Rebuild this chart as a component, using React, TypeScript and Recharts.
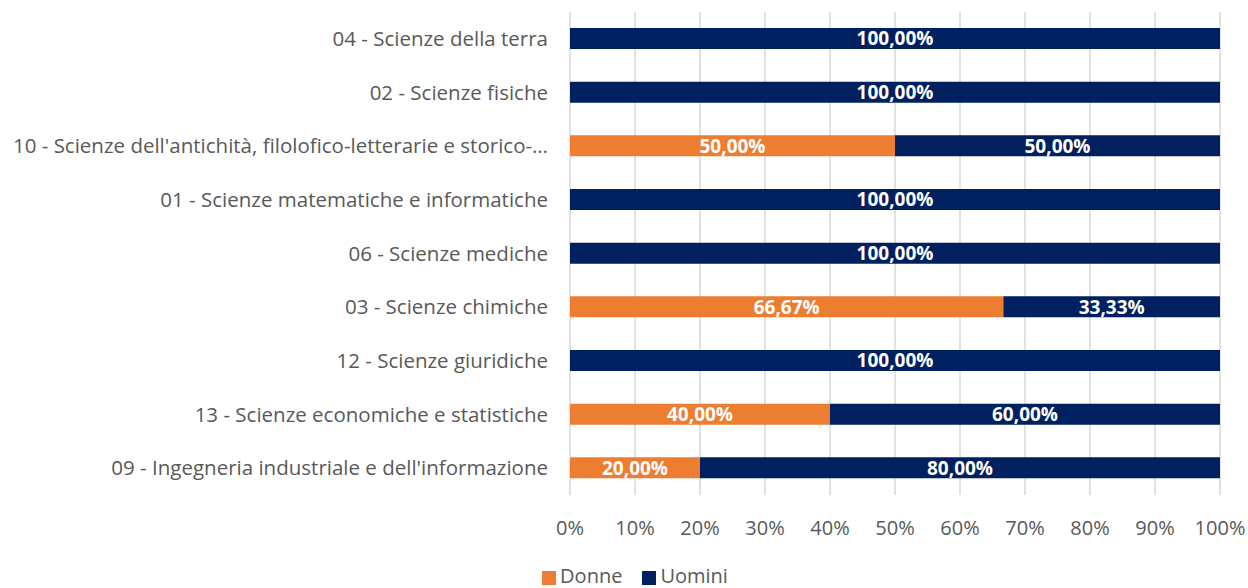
import { BarChart, Bar, XAxis, YAxis, CartesianGrid, Legend, LabelList } from "recharts";

const categories = [
  "04 - Scienze della terra",
  "02 - Scienze fisiche",
  "10 - Scienze dell'antichità, filolofico-letterarie e storico-…",
  "01 - Scienze matematiche e informatiche",
  "06 - Scienze mediche",
  "03 - Scienze chimiche",
  "12 - Scienze giuridiche",
  "13 - Scienze economiche e statistiche",
  "09 - Ingegneria industriale e dell'informazione",
];
const donne = [0, 0, 50, 0, 0, 66.67, 0, 40, 20];
const uomini = [100, 100, 50, 100, 100, 33.33, 100, 60, 80];
const xTicks = [0, 10, 20, 30, 40, 50, 60, 70, 80, 90, 100];

const data = categories.map((name, i) => ({ name, donne: donne[i], uomini: uomini[i] }));

const fmtPct = (v: any) => (v ? v.toFixed(2).replace(".", ",") + "%" : "");

export default function App() {
  return (
    <div style={{ position: "absolute", left: 0, top: 0, fontFamily: "'Open Sans', sans-serif" }}>
      <BarChart
        width={1248}
        height={588}
        data={data}
        layout="vertical"
        barSize={21}
        margin={{ top: 12, right: 28, bottom: 0, left: 0 }}
      >
        <CartesianGrid horizontal={false} stroke="#d9d9d9" strokeWidth={1.5} />
        <XAxis
          type="number"
          domain={[0, 100]}
          ticks={xTicks}
          tickFormatter={(v) => v + "%"}
          axisLine={false}
          tickLine={false}
          tick={{ fill: "#595959", fontSize: 20 }}
          tickMargin={20}
          height={60}
        />
        <YAxis
          type="category"
          dataKey="name"
          width={570}
          axisLine={false}
          tickLine={false}
          tick={{ fill: "#595959", fontSize: 20.5 }}
          tickMargin={16}
          interval={0}
        />
        <Legend
          verticalAlign="bottom"
          iconType="square"
          iconSize={14}
          height={33}
          wrapperStyle={{ fontSize: 20, left: 0, width: 1290, bottom: -9, lineHeight: "24px" }}
          formatter={(v) => <span style={{ color: "#595959", marginRight: 10 }}>{v}</span>}
        />
        <Bar dataKey="donne" name="Donne" stackId="a" fill="#ED7D31" isAnimationActive={false}>
          <LabelList dataKey="donne" position="center" formatter={fmtPct} fill="#ffffff" fontSize={19} fontWeight="bold" />
        </Bar>
        <Bar dataKey="uomini" name="Uomini" stackId="a" fill="#002060" isAnimationActive={false}>
          <LabelList dataKey="uomini" position="center" formatter={fmtPct} fill="#ffffff" fontSize={19} fontWeight="bold" />
        </Bar>
      </BarChart>
    </div>
  );
}
